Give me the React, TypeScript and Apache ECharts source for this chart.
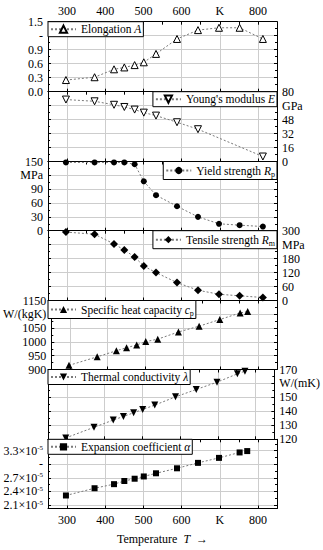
import React, { useEffect, useRef } from 'react';
import * as echarts from 'echarts';

// ---------- data ----------
const xTickValues = [300, 400, 500, 600, 700, 800];
const xAllTickValues = [300, 350, 400, 450, 500, 550, 600, 650, 700, 750, 800];
const temperatures = [297, 372, 423, 450, 477, 501, 533, 588, 643, 698, 752, 813];
const temperaturesThermal = [297, 372, 423, 450, 477, 501, 533, 588, 643, 698, 752, 772];

const elongation = [0.25, 0.31, 0.48, 0.52, 0.57, 0.63, 0.81, 1.13, 1.32, 1.37, 1.37, 1.13];
const youngsModulus = [71, 69, 65, 62.5, 59.5, 56, 52.6, 45, 37, null, null, 5.7];
const yieldStrength = [148, 148, 148, 148, 144, 107, 77, 53, 30, 15, 12, 9];
const tensileStrength = [294, 285, 243, 217, 187, 148, 120, 77, 44, 27, 20, 13];
const heatCapacity = [915, 946, 968, 979, 989, 1001, 1010, 1036, 1057, 1081, 1105, 1110];
const thermalConductivity = [121, 128.6, 133.8, 136.4, 139, 141.4, 144.5, 150.4, 155.7, 160.9, 166.9, 168.8];
// in units of 10^-5 1/K
const expansionCoeff = [2.31, 2.47, 2.56, 2.63, 2.68, 2.73, 2.8, 2.91, 3.03, 3.14, 3.26, 3.29];

// ---------- layout ----------
const FONT = '"Liberation Serif", "Times New Roman", Times, "DejaVu Serif", serif';
const AXIS = '#000';
const GRIDC = '#cdcdcd';
const gridTops = [21.7, 91.7, 161.5, 230.7, 300.5, 369.5, 439.3, 505];
const frameBottom = 508.5;

type Panel = {
  name: string;
  label: string;
  x: number[];
  y: (number | null)[];
  side: 'left' | 'right';
  min: number;
  max: number;
  interval: number;
  unitAt: number;
  unit: string;
  digits: number;
  sci?: boolean;
  symbol: string;
  rotate: number;
  hollow: boolean;
  size: number;
  legendSide: 'left' | 'right';
  sub: boolean;
};

const panels: Panel[] = [
  { name: 'Elongation A', label: 'Elongation {i|A}', x: temperatures, y: elongation, side: 'left', min: 0, max: 1.5, interval: 0.3, unitAt: 1.2, unit: '-', digits: 1, symbol: 'triangle', rotate: 0, hollow: true, size: 7, legendSide: 'left', sub: false },
  { name: "Young's modulus E", label: "Young's modulus {i|E}", x: temperatures, y: youngsModulus, side: 'right', min: 0, max: 80, interval: 16, unitAt: 64, unit: 'GPa', digits: 0, symbol: 'triangle', rotate: 180, hollow: true, size: 7, legendSide: 'right', sub: false },
  { name: 'Yield strength Rp', label: 'Yield strength {i|R}{sub|p}', x: temperatures, y: yieldStrength, side: 'left', min: 0, max: 150, interval: 30, unitAt: 120, unit: 'MPa', digits: 0, symbol: 'circle', rotate: 0, hollow: false, size: 6, legendSide: 'right', sub: true },
  { name: 'Tensile strength Rm', label: 'Tensile strength {i|R}{sub|m}', x: temperatures, y: tensileStrength, side: 'right', min: 0, max: 300, interval: 60, unitAt: 240, unit: 'MPa', digits: 0, symbol: 'diamond', rotate: 0, hollow: false, size: 8, legendSide: 'right', sub: true },
  { name: 'Specific heat capacity cp', label: 'Specific heat capacity {i|c}{sub|p}', x: temperaturesThermal, y: heatCapacity, side: 'left', min: 900, max: 1150, interval: 50, unitAt: 1100, unit: 'W/(kgK)', digits: 0, symbol: 'triangle', rotate: 0, hollow: false, size: 7, legendSide: 'left', sub: true },
  { name: 'Thermal conductivity λ', label: 'Thermal conductivity {i|λ}', x: temperaturesThermal, y: thermalConductivity, side: 'right', min: 120, max: 170, interval: 10, unitAt: 160, unit: 'W/(mK)', digits: 0, symbol: 'triangle', rotate: 180, hollow: false, size: 7, legendSide: 'left', sub: false },
  { name: 'Expansion coefficient α', label: 'Expansion coefficient {i|α}', x: temperaturesThermal, y: expansionCoeff, side: 'left', min: 2.1, max: 3.55, interval: 0.3, unitAt: 3.0, unit: '-', digits: 1, sci: true, symbol: 'rect', rotate: 0, hollow: false, size: 6, legendSide: 'left', sub: false },
];

const xFmt = (v: number) => (v === 700 ? 'K' : String(v));

function buildOption() {
  const grid: any[] = [];
  const xAxis: any[] = [];
  const yAxis: any[] = [];
  const series: any[] = [];
  const legend: any[] = [];

  const lastIdx = panels.length - 1;
  const axisLine = { show: true, onZero: false, lineStyle: { color: AXIS, width: 1 } };
  const labelBase = { color: '#000', fontFamily: FONT, fontSize: 12, margin: 5 };

  panels.forEach((p, i) => {
    grid.push({ left: 48, width: 229, top: gridTops[i], height: gridTops[i + 1] - gridTops[i] });

    const bottomIdx = xAxis.length;
    const isLast = i === lastIdx;
    xAxis.push({
      gridIndex: i, type: 'value', position: 'bottom', min: 250, max: 850,
      axisLine: isLast ? { show: false, onZero: false } : axisLine,
      axisTick: { show: !isLast, inside: true, length: 3, customValues: xTickValues, lineStyle: { color: AXIS } },
      axisLabel: { ...labelBase, show: false, customValues: xTickValues, formatter: xFmt },
      splitLine: { show: true, lineStyle: { color: GRIDC, width: 1 } },
    });
    xAxis.push({
      gridIndex: i, type: 'value', position: 'top', min: 250, max: 850,
      axisLine,
      axisTick: { show: true, inside: true, length: 3, customValues: xAllTickValues, lineStyle: { color: AXIS } },
      axisLabel: { ...labelBase, show: i === 0, customValues: xTickValues, formatter: xFmt },
      splitLine: { show: false },
    });

    const fmt = (v: number) => {
      if (Math.abs(v - p.unitAt) < 1e-9) return p.unit;
      if (p.sci) return '{b|' + v.toFixed(1) + '×10}{s|-5}';
      return v.toFixed(p.digits);
    };

    const mainIdx = yAxis.length;
    yAxis.push({
      gridIndex: i, type: 'value', position: p.side, min: p.min, max: p.max, interval: p.interval,
      axisLine,
      axisTick: { show: true, inside: true, length: 3, lineStyle: { color: AXIS } },
      minorTick: { show: true, splitNumber: 2, length: 2, lineStyle: { color: AXIS } },
      axisLabel: {
        ...labelBase,
        formatter: fmt,
        rich: {
          b: { fontFamily: FONT, fontSize: 12, color: '#000', lineHeight: 12 },
          s: { fontFamily: FONT, fontSize: 7, color: '#000', lineHeight: 7, verticalAlign: 'top' },
        },
      },
      splitLine: { show: true, lineStyle: { color: GRIDC, width: 1 } },
    });
    yAxis.push({
      gridIndex: i, type: 'value', position: p.side === 'left' ? 'right' : 'left', min: p.min, max: p.max, interval: p.interval,
      axisLine,
      axisTick: { show: true, inside: true, length: 3, lineStyle: { color: AXIS } },
      minorTick: { show: true, splitNumber: 2, length: 2, lineStyle: { color: AXIS } },
      axisLabel: { show: false },
      splitLine: { show: false },
    });

    series.push({
      type: 'line',
      name: p.name,
      xAxisIndex: bottomIdx,
      yAxisIndex: mainIdx,
      data: p.x.map((t, k) => [t, p.y[k]]).filter((d) => d[1] !== null),
      symbol: p.symbol,
      symbolSize: p.size,
      symbolRotate: p.rotate,
      showSymbol: true,
      clip: false,
      lineStyle: { color: '#7a7a7a', width: 1, type: [2, 2] },
      itemStyle: { color: p.hollow ? '#fff' : '#000', borderColor: '#000', borderWidth: p.hollow ? 1 : 0 },
      z: 3,
    });

    const lh = p.sub ? 16 : 13;
    legend.push({
      show: true,
      data: [p.name],
      ...(p.legendSide === 'left' ? { left: 48 } : { right: 46 }),
      top: gridTops[i],
      orient: 'horizontal',
      backgroundColor: '#fff',
      borderColor: '#000',
      borderWidth: 1,
      borderRadius: 0,
      padding: [1, 2, 1, 2],
      itemWidth: 25,
      itemHeight: 9,
      itemGap: 0,
      selectedMode: false,
      formatter: () => p.label,
      textStyle: {
        fontFamily: FONT, fontSize: 11.5, color: '#000', lineHeight: lh,
        rich: {
          i: { fontFamily: FONT, fontSize: 11.5, fontStyle: 'italic', color: '#000', lineHeight: lh },
          sub: { fontFamily: FONT, fontSize: 8, color: '#000', lineHeight: 8, verticalAlign: 'bottom' },
        },
      },
      z: 10,
    });
  });

  // thin strip below the expansion-coefficient panel (frame continues a little below the 2.1 tick)
  const fIdx = panels.length;
  grid.push({ left: 48, width: 229, top: gridTops[fIdx], height: frameBottom - gridTops[fIdx] });
  xAxis.push({
    gridIndex: fIdx, type: 'value', position: 'bottom', min: 250, max: 850,
    axisLine,
    axisTick: { show: true, inside: true, length: 3, customValues: xTickValues, lineStyle: { color: AXIS } },
    axisLabel: { ...labelBase, show: true, customValues: xTickValues, formatter: xFmt },
    splitLine: { show: true, lineStyle: { color: GRIDC, width: 1 } },
    name: 'Temperature  {i|T}  →',
    nameLocation: 'middle',
    nameGap: 24,
    nameTextStyle: {
      color: '#000', fontFamily: FONT, fontSize: 12,
      rich: { i: { fontStyle: 'italic', fontFamily: FONT, fontSize: 12, color: '#000' } },
    },
  });
  yAxis.push({ gridIndex: fIdx, type: 'value', position: 'left', min: 0, max: 1, axisLine, axisTick: { show: false }, axisLabel: { show: false }, splitLine: { show: false } });
  yAxis.push({ gridIndex: fIdx, type: 'value', position: 'right', min: 0, max: 1, axisLine, axisTick: { show: false }, axisLabel: { show: false }, splitLine: { show: false } });

  return {
    animation: false,
    backgroundColor: '#fff',
    textStyle: { fontFamily: FONT },
    grid,
    xAxis,
    yAxis,
    series,
    legend,
  };
}

export default function App() {
  const ref = useRef<HTMLDivElement>(null);
  useEffect(() => {
    if (!ref.current) return;
    const chart = echarts.init(ref.current, undefined, { renderer: 'svg' });
    chart.setOption(buildOption() as any);
    return () => chart.dispose();
  }, []);
  return (
    <div
      ref={ref}
      style={{ position: 'fixed', left: 0, top: 0, width: 323, height: 550, background: '#fff', fontFamily: 'Liberation Serif, serif' }}
    />
  );
}
